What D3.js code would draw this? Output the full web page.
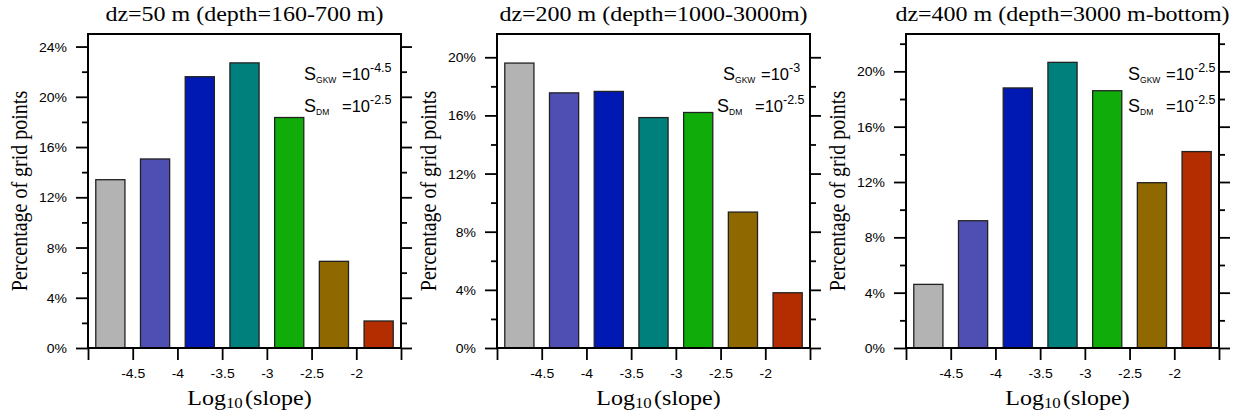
<!DOCTYPE html>
<html>
<head>
<meta charset="utf-8">
<script src="https://cdn.jsdelivr.net/npm/d3@7"></script>
<style>
  body { margin: 0; background: #fff; }
  svg { display: block; }
</style>
</head>
<body>
<div id="chart"></div>
<script>
// Bin centres (log10 of slope) and bar colours
var binCentres = [-4.75, -4.25, -3.75, -3.25, -2.75, -2.25, -1.75];
var barColors = ["#b3b3b3", "#4f4fb3", "#0019b3", "#00807c", "#10ad0a", "#8f6900", "#b32d00"];
var xTicks = [-5, -4.5, -4, -3.5, -3, -2.5, -2, -1.5];

// Percentage of grid points per panel
var pct50 = [13.4, 15.05, 21.6, 22.7, 18.35, 6.9, 2.15];
var pct200 = [19.6, 17.55, 17.65, 15.85, 16.2, 9.35, 3.8];
var pct400 = [4.6, 9.2, 18.8, 20.65, 18.6, 11.95, 14.2];

var titles = ["dz=50 m (depth=160-700 m)", "dz=200 m (depth=1000-3000m)", "dz=400 m (depth=3000 m-bottom)"];
var yMax = [25, 21.6, 22.7];
var yMajor = [[0, 4, 8, 12, 16, 20, 24], [0, 4, 8, 12, 16, 20], [0, 4, 8, 12, 16, 20]];
var yMinor = [[2, 6, 10, 14, 18, 22], [2, 6, 10, 14, 18], [2, 6, 10, 14, 18, 22]];
var sGKW = ["-4.5", "-3", "-2.5"];
var sDM = ["-2.5", "-2.5", "-2.5"];

var panels = [pct50, pct200, pct400];

// Layout
var W = 1242, H = 418;
var lefts = [88, 497, 906];
var plotW = 313;
var plotTop = 34, plotBottom = 348;
var stretch = 1.2;      // titles/labels are horizontally stretched in the figure
var tickStretch = 1.12;
var gkwX = [-97, -87, -91], dmX = [-97, -93, -91];

var svg = d3.select("#chart").append("svg")
    .attr("width", W)
    .attr("height", H);

panels.forEach(function(vals, p) {
  var x0 = lefts[p];
  var g = svg.append("g").attr("transform", "translate(" + x0 + ",0)");

  var x = d3.scaleLinear().domain([-5, -1.5]).range([0, plotW]);
  var y = d3.scaleLinear().domain([0, yMax[p]]).range([plotBottom, plotTop]);
  var halfW = 0.163;

  // bars
  g.append("g").selectAll("rect")
    .data(vals)
    .enter().append("rect")
    .attr("x", function(d, i) { return x(binCentres[i] - halfW); })
    .attr("width", function(d, i) { return x(binCentres[i] + halfW) - x(binCentres[i] - halfW); })
    .attr("y", function(d) { return y(d); })
    .attr("height", function(d) { return y(0) - y(d); })
    .attr("fill", function(d, i) { return barColors[i]; })
    .attr("stroke", "#222")
    .attr("stroke-width", 1.3);

  // left axis, major + minor
  var leftMajor = d3.axisLeft(y).tickValues(yMajor[p]).tickSize(12).tickFormat(function(d) { return d + "%"; });
  var gl = g.append("g").call(leftMajor);
  gl.selectAll("text")
    .attr("x", -21 / tickStretch)
    .attr("dy", "0.36em")
    .attr("transform", "scale(" + tickStretch + ",1)")
    .style("font-family", "'Liberation Sans', Arial, sans-serif")
    .style("font-size", "12.5px")
    .attr("fill", "#000");
  g.append("g").call(d3.axisLeft(y).tickValues(yMinor[p]).tickSize(6).tickFormat(""));

  // right axis (mirror)
  var gr = g.append("g").attr("transform", "translate(" + plotW + ",0)");
  gr.append("g").call(d3.axisRight(y).tickValues(yMajor[p]).tickSize(11).tickFormat(""));
  gr.append("g").call(d3.axisRight(y).tickValues(yMinor[p]).tickSize(6).tickFormat(""));

  // bottom axis
  var gb = g.append("g").attr("transform", "translate(0," + plotBottom + ")")
    .call(d3.axisBottom(x).tickValues(xTicks).tickSize(12)
      .tickFormat(function(d) { return (d > -5 && d < -1.5) ? String(d) : ""; }));
  gb.selectAll("text")
    .attr("y", 21)
    .attr("transform", "scale(" + tickStretch + ",1)")
    .style("font-family", "'Liberation Sans', Arial, sans-serif")
    .style("font-size", "12.5px")
    .attr("fill", "#000");

  g.selectAll(".domain").remove();
  g.selectAll(".tick line").attr("stroke", "#000").attr("stroke-width", 1.8);

  // frame
  g.append("rect")
    .attr("x", 0).attr("y", plotTop)
    .attr("width", plotW).attr("height", plotBottom - plotTop)
    .attr("fill", "none")
    .attr("stroke", "#000")
    .attr("stroke-width", 2);

  // title
  g.append("text")
    .attr("transform", "translate(" + (plotW / 2) + ",21) scale(" + stretch + ",1)")
    .attr("text-anchor", "middle")
    .style("font-family", "'Liberation Serif', 'Times New Roman', serif")
    .style("font-size", "20px")
    .text(titles[p]);

  // y label
  g.append("text")
    .attr("transform", "translate(-61," + ((plotTop + plotBottom) / 2) + ") scale(" + stretch + ",1) rotate(-90)")
    .attr("text-anchor", "middle")
    .style("font-family", "'Liberation Serif', 'Times New Roman', serif")
    .style("font-size", "20px")
    .text("Percentage of grid points");

  // x label
  var xl = g.append("text")
    .attr("transform", "translate(" + (plotW / 2 + 5) + ",405) scale(" + stretch + ",1)")
    .attr("text-anchor", "middle")
    .style("font-family", "'Liberation Serif', 'Times New Roman', serif")
    .style("font-size", "20px");
  xl.append("tspan").text("Log");
  xl.append("tspan").attr("dy", 3).style("font-size", "14px").text("10");
  xl.append("tspan").attr("dy", -3).attr("dx", 2).text("(slope)");

  // annotation
  var ann = [["GKW", sGKW[p], 80, gkwX[p]], ["DM", sDM[p], 112, dmX[p]]];
  ann.forEach(function(a) {
    var sx = plotW + a[3];
    var t = g.append("text")
      .attr("x", sx).attr("y", a[2])
      .style("font-family", "'Liberation Sans', Arial, sans-serif")
      .style("font-size", "16.5px");
    t.append("tspan").style("font-size", "18px").text("S");
    t.append("tspan").attr("dy", 3).style("font-size", "8.5px").text(a[0]);
    t.append("tspan").attr("x", sx + 38).attr("dy", -3).text("=10");
    t.append("tspan").attr("dy", -8).style("font-size", "12.5px").text(a[1]);
  });
});
</script>
</body>
</html>
